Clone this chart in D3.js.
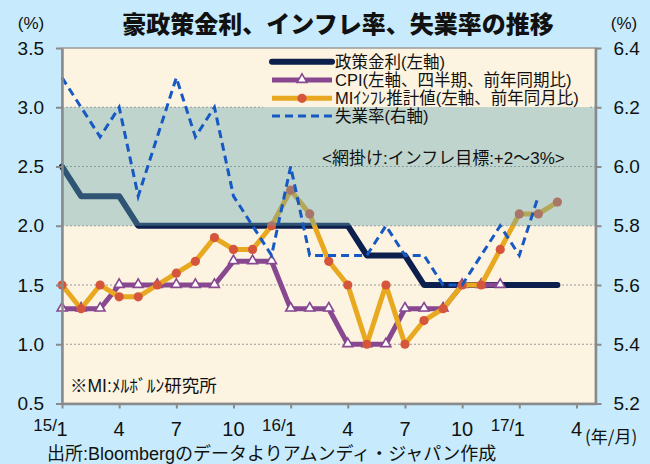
<!DOCTYPE html>
<html>
<head>
<meta charset="utf-8">
<script src="https://cdn.jsdelivr.net/npm/d3@7"></script>
<style>
  body { margin: 0; background: #c7ebfc; }
  svg { display: block; }
</style>
</head>
<body>
<div id="chart"></div>
<script>
/****** DATA ******/
// months from 2015/1 to 2017/3
var months = ["15/1","15/2","15/3","15/4","15/5","15/6","15/7","15/8","15/9","15/10","15/11","15/12",
  "16/1","16/2","16/3","16/4","16/5","16/6","16/7","16/8","16/9","16/10","16/11","16/12",
  "17/1","17/2","17/3"];
var policyRate = [2.5,2.25,2.25,2.25,2.0,2.0,2.0,2.0,2.0,2.0,2.0,2.0,2.0,2.0,2.0,2.0,1.75,1.75,1.75,1.5,1.5,1.5,1.5,1.5,1.5,1.5,1.5];
var cpi = [1.3,1.3,1.3,1.5,1.5,1.5,1.5,1.5,1.5,1.7,1.7,1.7,1.3,1.3,1.3,1.0,1.0,1.0,1.3,1.3,1.3,1.5,1.5,1.5];
var miInflation = [1.5,1.3,1.5,1.4,1.4,1.5,1.6,1.7,1.9,1.8,1.8,2.0,2.3,2.1,1.7,1.5,1.0,1.5,1.0,1.2,1.3,1.5,1.5,1.8,2.1,2.1,2.2];
var unemployment = [6.3,6.2,6.1,6.2,5.9,6.1,6.3,6.1,6.2,5.9,5.8,5.7,6.0,5.7,5.7,5.7,5.7,5.8,5.7,5.7,5.6,5.6,5.7,5.8,5.7,5.9];
var targetBand = [2.0, 3.0];
var leftTicks = [0.5,1.0,1.5,2.0,2.5,3.0,3.5];
var rightTicks = [5.2,5.4,5.6,5.8,6.0,6.2,6.4];
var xTickPos = [0,3,6,9,12,15,18,21,24,27];
var xTickLabels = ["15/1","4","7","10","16/1","4","7","10","17/1","4"];
var legendItems = ["政策金利(左軸)","CPI(左軸、四半期、前年同期比)","MIｲﾝﾌﾚ推計値(左軸、前年同月比)","失業率(右軸)"];

var W = 650, H = 464;
var plot = {left: 62, right: 595.5, top: 48, bottom: 403.5};
var fontLatin = "'Liberation Sans', 'Noto Sans CJK JP', sans-serif";

var svg = d3.select("#chart").append("svg")
  .attr("width", W).attr("height", H);

svg.append("rect").attr("width", W).attr("height", H).attr("fill", "#c7ebfc");

// scales
var x = d3.scaleLinear().domain([0, 28]).range([plot.left, plot.right]);
var yL = d3.scaleLinear().domain([0.5, 3.5]).range([plot.bottom, plot.top]);
var yR = d3.scaleLinear().domain([5.2, 6.4]).range([plot.bottom, plot.top]);

// plot background
svg.append("rect")
  .attr("x", plot.left).attr("y", plot.top)
  .attr("width", plot.right - plot.left).attr("height", plot.bottom - plot.top)
  .attr("fill", "#fcf3e1")
  .attr("stroke", "#9a9a9a").attr("stroke-width", 1.5);

// gridlines
svg.append("g").selectAll("line")
  .data(leftTicks.filter(function(d){ return d > 0.5 && d < 3.5; }))
  .enter().append("line")
    .attr("x1", plot.left).attr("x2", plot.right)
    .attr("y1", function(d){ return yL(d); }).attr("y2", function(d){ return yL(d); })
    .attr("stroke", "#9b9b9b").attr("stroke-width", 1)
    .attr("stroke-dasharray", "2,2");

/****** LINES ******/
var lineL = d3.line()
  .x(function(d, i){ return x(i); })
  .y(function(d){ return yL(d); });
var lineR = d3.line()
  .x(function(d, i){ return x(i); })
  .y(function(d){ return yR(d); });

svg.append("path").datum(policyRate)
  .attr("d", lineL).attr("fill", "none")
  .attr("stroke", "#0c1f4d").attr("stroke-width", 6)
  .attr("stroke-linejoin", "round").attr("stroke-linecap", "round");

svg.append("path").datum(cpi)
  .attr("d", lineL).attr("fill", "none")
  .attr("stroke", "#874890").attr("stroke-width", 5)
  .attr("stroke-linejoin", "round");

var tri = d3.symbol().type(d3.symbolTriangle).size(42);
svg.append("g").selectAll("path")
  .data(cpi).enter().append("path")
    .attr("d", tri)
    .attr("transform", function(d, i){ return "translate(" + x(i) + "," + (yL(d) - 0.5) + ")"; })
    .attr("fill", "#ffffff").attr("stroke", "#874890").attr("stroke-width", 1.6);

svg.append("path").datum(miInflation)
  .attr("d", lineL).attr("fill", "none")
  .attr("stroke", "#e8a920").attr("stroke-width", 5)
  .attr("stroke-linejoin", "round");

svg.append("g").selectAll("circle")
  .data(miInflation).enter().append("circle")
    .attr("cx", function(d, i){ return x(i); })
    .attr("cy", function(d){ return yL(d); })
    .attr("r", 4.6)
    .attr("fill", "#d5563a");

// inflation target band (semi transparent, over the left axis series)
svg.append("rect")
  .attr("x", plot.left).attr("y", yL(targetBand[1]))
  .attr("width", plot.right - plot.left)
  .attr("height", yL(targetBand[0]) - yL(targetBand[1]))
  .attr("fill", "rgb(100,164,174)").attr("fill-opacity", 0.4);

svg.append("path").datum(unemployment)
  .attr("d", lineR).attr("fill", "none")
  .attr("stroke", "#1658c4").attr("stroke-width", 3)
  .attr("stroke-dasharray", "8,5");

/****** AXES ******/
var axisColor = "#8a8a8a";

var gL = svg.append("g")
  .attr("transform", "translate(" + plot.left + ",0)")
  .call(d3.axisLeft(yL).tickValues(leftTicks).tickFormat(d3.format(".1f"))
    .tickSize(6).tickSizeOuter(0).tickPadding(12));
var gR = svg.append("g")
  .attr("transform", "translate(" + plot.right + ",0)")
  .call(d3.axisRight(yR).tickValues(rightTicks).tickFormat(d3.format(".1f"))
    .tickSize(6).tickSizeOuter(0).tickPadding(12));
var gB = svg.append("g")
  .attr("transform", "translate(0," + plot.bottom + ")")
  .call(d3.axisBottom(x).tickValues(xTickPos).tickFormat("")
    .tickSize(5).tickSizeOuter(0));

[gL, gR, gB].forEach(function(g){
  g.select(".domain").attr("stroke", axisColor).attr("stroke-width", 2.5);
  g.selectAll(".tick line").attr("stroke", axisColor).attr("stroke-width", 2);
  g.selectAll(".tick text")
    .attr("fill", "#111")
    .style("font-size", "19px")
    .style("font-family", fontLatin);
});

// bottom tick labels, year part smaller and raised
var xl = svg.append("g").style("font-family", fontLatin).attr("fill", "#111");
xTickLabels.forEach(function(lab, i){
  var px = x(xTickPos[i]);
  var parts = lab.split("/");
  var main = parts.length > 1 ? parts[1] : parts[0];
  xl.append("text")
    .attr("x", px).attr("y", 436)
    .attr("text-anchor", "middle")
    .style("font-size", "20px")
    .text(main);
  if (parts.length > 1) {
    xl.append("text")
      .attr("x", px - 5).attr("y", 431)
      .attr("text-anchor", "end")
      .style("font-size", "17px")
      .text(parts[0] + "/");
  }
});
xl.append("text")
  .attr("x", 585).attr("y", 443)
  .style("font-size", "17px")
  .style("font-family", "'Noto Sans CJK JP', sans-serif")
  .text("(年/月)");

/****** LEGEND ******/
var lg = svg.append("g");
lg.append("rect").attr("x", 263).attr("y", 51).attr("width", 326)
  .attr("height", yL(3.0) - 51).attr("fill", "#fcf3e1");
lg.append("rect").attr("x", 263).attr("y", yL(3.0)).attr("width", 326)
  .attr("height", 126 - yL(3.0)).attr("fill", "#fcf3e1");
lg.append("rect").attr("x", 263).attr("y", yL(3.0)).attr("width", 326)
  .attr("height", 126 - yL(3.0)).attr("fill", "rgb(100,164,174)").attr("fill-opacity", 0.4);

var legendY = [61.7, 80, 98.3, 116];
var lx1 = 272, lx2 = 332;
lg.append("line").attr("x1", lx1).attr("x2", lx2).attr("y1", legendY[0]).attr("y2", legendY[0])
  .attr("stroke", "#0c1f4d").attr("stroke-width", 6).attr("stroke-linecap", "round");
lg.append("line").attr("x1", lx1).attr("x2", lx2).attr("y1", legendY[1]).attr("y2", legendY[1])
  .attr("stroke", "#874890").attr("stroke-width", 5);
lg.append("path").attr("d", tri)
  .attr("transform", "translate(" + (lx1 + lx2) / 2 + "," + (legendY[1] - 0.5) + ")")
  .attr("fill", "#fff").attr("stroke", "#874890").attr("stroke-width", 1.6);
lg.append("line").attr("x1", lx1).attr("x2", lx2).attr("y1", legendY[2]).attr("y2", legendY[2])
  .attr("stroke", "#e8a920").attr("stroke-width", 5);
lg.append("circle").attr("cx", (lx1 + lx2) / 2).attr("cy", legendY[2]).attr("r", 4.6)
  .attr("fill", "#d5563a");
lg.append("line").attr("x1", lx1).attr("x2", lx2).attr("y1", legendY[3]).attr("y2", legendY[3])
  .attr("stroke", "#1658c4").attr("stroke-width", 3).attr("stroke-dasharray", "8,5");

lg.selectAll("text.leg")
  .data(legendItems).enter().append("text")
    .attr("class", "leg")
    .attr("x", 335)
    .attr("y", function(d, i){ return legendY[i] + 6; })
    .style("font-size", "16.5px")
    .style("font-family", fontLatin)
    .attr("fill", "#111")
    .text(function(d){ return d; });

/****** NOTES & TITLE ******/
svg.append("text")
  .attr("x", 322).attr("y", 164)
  .style("font-size", "17px")
  .style("font-family", fontLatin)
  .attr("fill", "#111")
  .text("<網掛け:インフレ目標:+2～3%>");

svg.append("text")
  .attr("x", 70).attr("y", 392)
  .style("font-size", "17.5px")
  .style("font-family", fontLatin)
  .attr("fill", "#111")
  .text("※MI:ﾒﾙﾎﾞﾙﾝ研究所");

svg.append("text")
  .attr("x", 47).attr("y", 460)
  .style("font-size", "18px")
  .style("font-family", fontLatin)
  .attr("fill", "#111")
  .text("出所:Bloombergのデータよりアムンディ・ジャパン作成");

svg.append("text")
  .attr("x", 338).attr("y", 33)
  .attr("text-anchor", "middle")
  .style("font-size", "24px")
  .style("font-weight", "900")
  .style("font-family", "'Noto Sans CJK JP', sans-serif")
  .attr("fill", "#111")
  .text("豪政策金利、インフレ率、失業率の推移");

svg.append("text")
  .attr("x", 31).attr("y", 29)
  .attr("text-anchor", "middle")
  .style("font-size", "17px")
  .style("font-family", fontLatin)
  .attr("fill", "#111")
  .text("(%)");
svg.append("text")
  .attr("x", 624).attr("y", 29)
  .attr("text-anchor", "middle")
  .style("font-size", "17px")
  .style("font-family", fontLatin)
  .attr("fill", "#111")
  .text("(%)");
</script>
</body>
</html>
